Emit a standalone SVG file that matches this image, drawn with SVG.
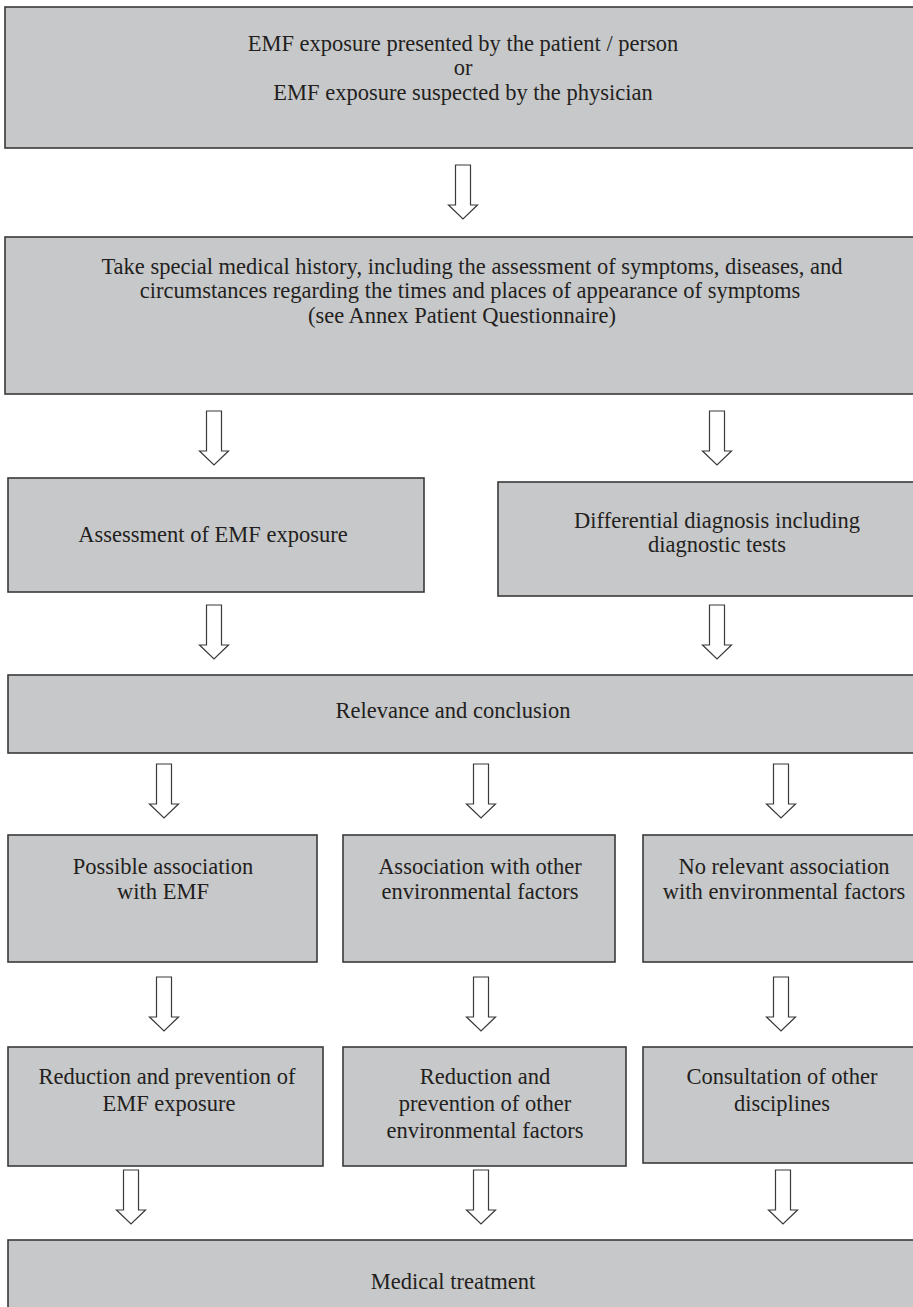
<svg xmlns="http://www.w3.org/2000/svg" xmlns:xlink="http://www.w3.org/1999/xlink" width="913" height="1307" viewBox="0 0 913 1307">
<style>
.box{fill:#c7c8ca;stroke:#3a3a3a;stroke-width:1.6}
.t{font-family:"Liberation Serif","Times New Roman",serif;font-size:22.5px;fill:#231f20;text-anchor:middle}
.arr{fill:#ffffff;stroke:#3a3a3a;stroke-width:1.2}
</style>
<defs>
<path id="arrow" d="M-7.5 0H7.5V40H14.5L0 54L-14.5 40H-7.5Z"/>
</defs>
<rect width="913" height="1307" fill="#ffffff"/>
<g id="n1"><rect class="box" x="5" y="7" width="930" height="141"/>
<text class="t" x="463" y="51">EMF exposure presented by the patient / person</text>
<text class="t" x="463" y="75">or</text>
<text class="t" x="463" y="100">EMF exposure suspected by the physician</text></g>
<g id="n2"><rect class="box" x="5" y="237" width="930" height="157"/>
<text class="t" x="472" y="274">Take special medical history, including the assessment of symptoms, diseases, and</text>
<text class="t" x="470" y="298">circumstances regarding the times and places of appearance of symptoms</text>
<text class="t" x="462" y="323">(see Annex Patient Questionnaire)</text></g>
<g id="n3a"><rect class="box" x="8" y="478" width="416" height="114"/>
<text class="t" x="213" y="542">Assessment of EMF exposure</text></g>
<g id="n3b"><rect class="box" x="498" y="482" width="440" height="114"/>
<text class="t" x="717" y="528">Differential diagnosis including</text>
<text class="t" x="717" y="552">diagnostic tests</text></g>
<g id="n4"><rect class="box" x="8" y="675" width="930" height="78"/>
<text class="t" x="453" y="718">Relevance and conclusion</text></g>
<g id="n5a"><rect class="box" x="8" y="835" width="309" height="127"/>
<text class="t" x="163" y="874">Possible association</text>
<text class="t" x="163" y="899">with EMF</text></g>
<g id="n5b"><rect class="box" x="343" y="835" width="272" height="127"/>
<text class="t" x="480" y="874">Association with other</text>
<text class="t" x="480" y="899">environmental factors</text></g>
<g id="n5c"><rect class="box" x="643" y="835" width="280" height="127"/>
<text class="t" x="784" y="874">No relevant association</text>
<text class="t" x="784" y="899">with environmental factors</text></g>
<g id="n6a"><rect class="box" x="8" y="1047" width="315" height="119"/>
<text class="t" x="167" y="1084">Reduction and prevention of</text>
<text class="t" x="169" y="1111">EMF exposure</text></g>
<g id="n6b"><rect class="box" x="343" y="1047" width="283" height="119"/>
<text class="t" x="485" y="1084">Reduction and</text>
<text class="t" x="485" y="1111">prevention of other</text>
<text class="t" x="485" y="1138">environmental factors</text></g>
<g id="n6c"><rect class="box" x="643" y="1047" width="280" height="116"/>
<text class="t" x="782" y="1084">Consultation of other</text>
<text class="t" x="782" y="1111">disciplines</text></g>
<g id="n7"><rect class="box" x="8" y="1240" width="930" height="80"/>
<text class="t" x="453" y="1289">Medical treatment</text></g>
<g id="connectors" class="arr">
<use xlink:href="#arrow" href="#arrow" transform="translate(463,165)"/>
<use xlink:href="#arrow" href="#arrow" transform="translate(214,411)"/>
<use xlink:href="#arrow" href="#arrow" transform="translate(717,411)"/>
<use xlink:href="#arrow" href="#arrow" transform="translate(214,605)"/>
<use xlink:href="#arrow" href="#arrow" transform="translate(717,605)"/>
<use xlink:href="#arrow" href="#arrow" transform="translate(164,764)"/>
<use xlink:href="#arrow" href="#arrow" transform="translate(481,764)"/>
<use xlink:href="#arrow" href="#arrow" transform="translate(781,764)"/>
<use xlink:href="#arrow" href="#arrow" transform="translate(164,977)"/>
<use xlink:href="#arrow" href="#arrow" transform="translate(481,977)"/>
<use xlink:href="#arrow" href="#arrow" transform="translate(781,977)"/>
<use xlink:href="#arrow" href="#arrow" transform="translate(131,1170)"/>
<use xlink:href="#arrow" href="#arrow" transform="translate(481,1170)"/>
<use xlink:href="#arrow" href="#arrow" transform="translate(783,1170)"/>
</g>
</svg>
